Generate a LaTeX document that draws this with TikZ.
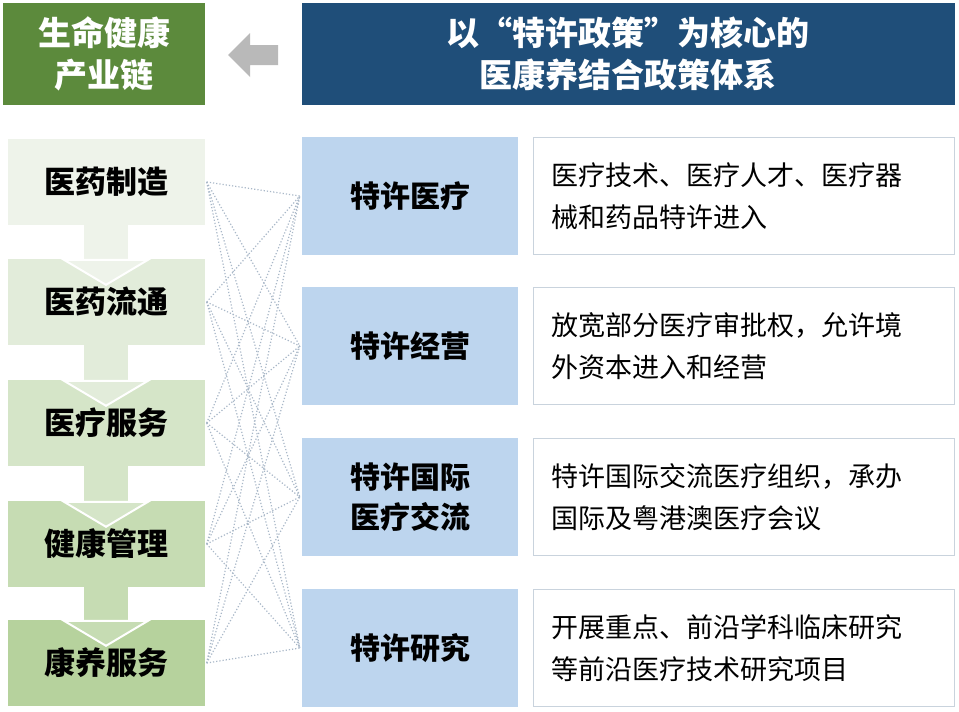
\documentclass[tikz,border=0pt]{standalone}
\usepackage{fontspec}
\setmainfont{Noto Sans CJK SC}
\newfontfamily\cjkb{Noto Sans CJK SC Black}
\definecolor{ga}{HTML}{EEF3EA}
\definecolor{gb}{HTML}{E2ECDA}
\definecolor{gc}{HTML}{D5E5C8}
\definecolor{gd}{HTML}{C6DCB3}
\definecolor{ge}{HTML}{B6D29D}
\definecolor{hgreen}{HTML}{5C8A3C}
\definecolor{hblue}{HTML}{1F4E79}
\definecolor{lblue}{HTML}{BDD5EE}
\definecolor{bord}{HTML}{C9D3DD}
\definecolor{dotc}{HTML}{A9B8C8}
\begin{document}
\begin{tikzpicture}[x=1pt,y=-1pt,
  chain/.style={minimum width=197pt,minimum height=86pt,inner sep=0pt,font=\cjkb\fontsize{31}{34}\selectfont},
  pol/.style={fill=lblue,minimum width=216pt,minimum height=118pt,inner sep=0pt,align=center,font=\cjkb\fontsize{30}{40}\selectfont},
  desc/.style={draw=bord,line width=1pt,minimum width=421pt,minimum height=117pt,inner sep=0pt,text width=385pt,align=left,font=\fontsize{27}{42}\selectfont},
  dots/.style={draw=dotc,dotted,line width=1.2pt}]
\useasboundingbox (0,0) rectangle (959,712);
\fill[white] (0,0) rectangle (959,712);
% headers
\node[fill=hgreen,minimum width=202pt,minimum height=102pt,inner sep=0pt,text=white,align=center,font=\cjkb\fontsize{33}{42}\selectfont] (hl) at (104,54) {生命健康\\产业链};
\node[fill=hblue,minimum width=653pt,minimum height=102pt,inner sep=0pt,text=white,align=center,font=\cjkb\fontsize{33}{42}\selectfont] (hr) at (628,54) {以“特许政策”为核心的\\医康养结合政策体系};
\fill[gray!55] (228,55) -- (250,33) -- (250,45) -- (278,45) -- (278,65) -- (250,65) -- (250,77) -- cycle;
% chain boxes
\node[chain,fill=ga] (c1) at (106,182) {};
\node[chain,fill=gb] (c2) at (106,302) {};
\node[chain,fill=gc] (c3) at (106,423) {};
\node[chain,fill=gd] (c4) at (106,544) {};
\node[chain,fill=ge] (c5) at (106,663) {};
\foreach \u/\l/\col in {c1/c2/ga,c2/c3/gb,c3/c4/gc,c4/c5/gd}{
  \fill[\col] ([xshift=-22pt]\u.south) rectangle ([xshift=22pt]\l.north);
  \filldraw[fill=\col,draw=white,line width=2pt] ([xshift=-42pt,yshift=-1pt]\l.north) -- ([xshift=42pt,yshift=-1pt]\l.north) -- ([yshift=-26pt]\l.north) -- cycle;
}
\node[chain] (t1) at (c1) {医药制造};
\node[chain] (t2) at (c2) {医药流通};
\node[chain] (t3) at (c3) {医疗服务};
\node[chain] (t4) at (c4) {健康管理};
\node[chain] (t5) at (c5) {康养服务};
% policy boxes
\node[pol] (p1) at (410,196) {特许医疗};
\node[pol] (p2) at (410,346) {特许经营};
\node[pol] (p3) at (410,497) {特许国际\\医疗交流};
\node[pol] (p4) at (410,648) {特许研究};
\node[desc] (d1) at (744,196) {医疗技术、医疗人才、医疗器\\械和药品特许进入};
\node[desc] (d2) at (744,346) {放宽部分医疗审批权，允许境\\外资本进入和经营};
\node[desc] (d3) at (744,497) {特许国际交流医疗组织，承办\\国际及粤港澳医疗会议};
\node[desc] (d4) at (744,648) {开展重点、前沿学科临床研究\\等前沿医疗技术研究项目};
% dotted connectors
\foreach \c in {c1,c2,c3,c4,c5}{
  \foreach \p in {p1,p2,p3,p4}{
    \draw[dots] ([xshift=2pt]\c.east) -- ([xshift=-2pt]\p.west);
  }
}
\end{tikzpicture}
\end{document}
